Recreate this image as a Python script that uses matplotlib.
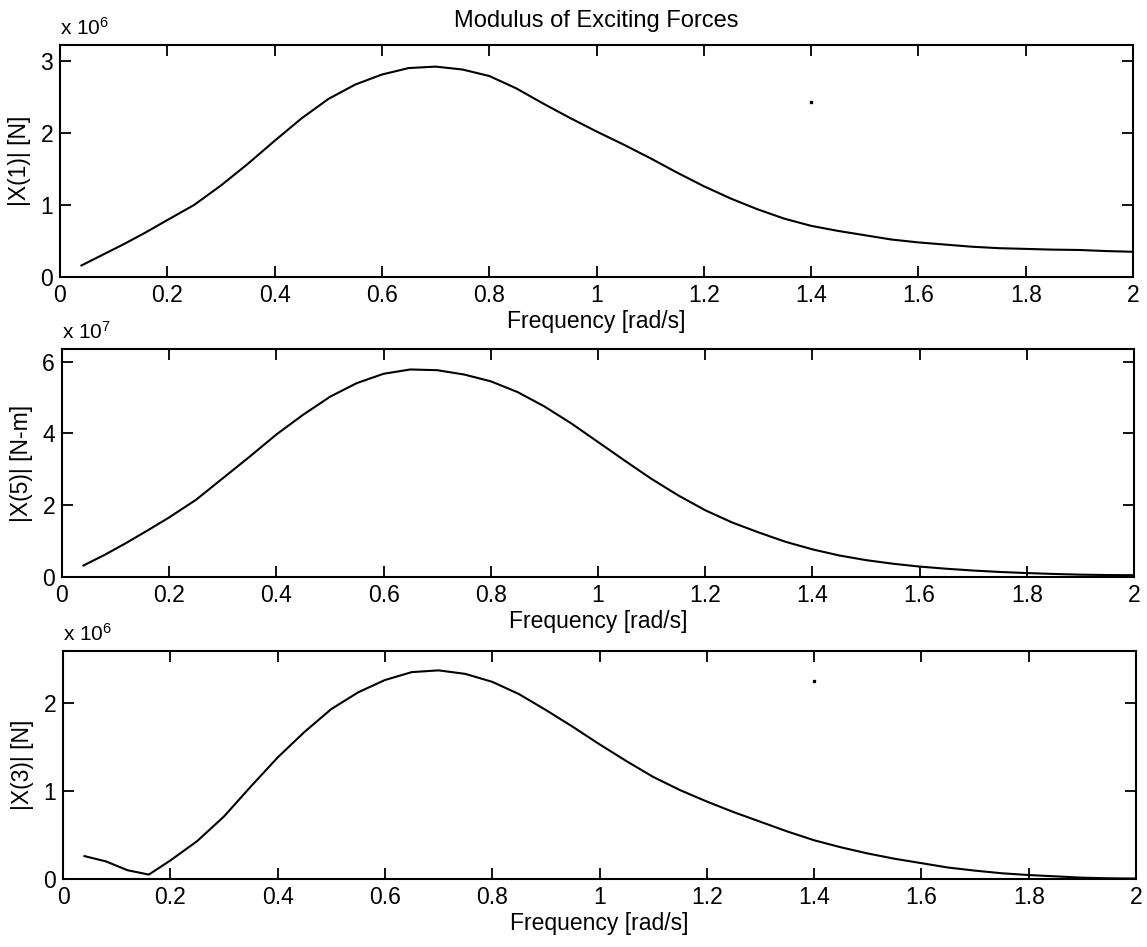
import matplotlib
matplotlib.use("Agg")
import matplotlib.pyplot as plt

plt.rcParams['font.family'] = ['Liberation Sans', 'DejaVu Sans']
plt.rcParams['mathtext.fontset'] = 'custom'
plt.rcParams['mathtext.rm'] = 'Liberation Sans'
plt.rcParams['mathtext.it'] = 'Liberation Sans'

# Frequency grid [rad/s]
freq = [0.04, 0.08, 0.12, 0.16, 0.20, 0.25, 0.30, 0.35, 0.40, 0.45, 0.50,
        0.55, 0.60, 0.65, 0.70, 0.75, 0.80, 0.85, 0.90, 0.95, 1.00, 1.05,
        1.10, 1.15, 1.20, 1.25, 1.30, 1.35, 1.40, 1.45, 1.50, 1.55, 1.60,
        1.65, 1.70, 1.75, 1.80, 1.85, 1.90, 1.95, 2.00]

# |X(1)| surge force, units of 1e6 N
x1 = [0.16, 0.31, 0.46, 0.62, 0.79, 1.00, 1.27, 1.57, 1.89, 2.20, 2.47,
      2.67, 2.81, 2.90, 2.92, 2.88, 2.79, 2.62, 2.41, 2.21, 2.02, 1.84,
      1.65, 1.45, 1.26, 1.09, 0.94, 0.81, 0.71, 0.64, 0.58, 0.52, 0.48,
      0.45, 0.42, 0.40, 0.39, 0.38, 0.375, 0.36, 0.35]

# |X(5)| pitch moment, units of 1e7 N-m
x5 = [0.32, 0.62, 0.95, 1.30, 1.66, 2.15, 2.75, 3.35, 3.97, 4.52, 5.02,
      5.40, 5.66, 5.78, 5.76, 5.64, 5.45, 5.15, 4.75, 4.28, 3.76, 3.24,
      2.73, 2.27, 1.86, 1.52, 1.24, 0.98, 0.77, 0.60, 0.47, 0.37, 0.29,
      0.23, 0.18, 0.14, 0.11, 0.085, 0.065, 0.055, 0.05]

# |X(3)| heave force, units of 1e6 N
x3 = [0.26, 0.20, 0.10, 0.05, 0.21, 0.43, 0.71, 1.05, 1.38, 1.67, 1.93,
      2.12, 2.26, 2.35, 2.37, 2.33, 2.24, 2.10, 1.92, 1.73, 1.53, 1.34,
      1.16, 1.01, 0.88, 0.76, 0.65, 0.54, 0.44, 0.36, 0.29, 0.23, 0.18,
      0.13, 0.095, 0.065, 0.045, 0.03, 0.015, 0.008, 0.005]

# Isolated specks in the printed figure
speck1 = ([1.4], [2.43])
speck3 = ([1.4], [2.25])

panels = [
    dict(y=x1, ylabel='|X(1)| [N]', ylim=(0, 3.22), yticks=[0, 1, 2, 3],
         exp='6', rect=[60, 45, 1133, 277], speck=speck1),
    dict(y=x5, ylabel='|X(5)| [N-m]', ylim=(0, 6.35), yticks=[0, 2, 4, 6],
         exp='7', rect=[62, 349, 1134, 577], speck=None),
    dict(y=x3, ylabel='|X(3)| [N]', ylim=(0, 2.59), yticks=[0, 1, 2],
         exp='6', rect=[63, 651, 1136, 879], speck=speck3),
]

W, H = 1147, 947
fig = plt.figure(figsize=(W / 100, H / 100), dpi=100)
xticks = [0, 0.2, 0.4, 0.6, 0.8, 1, 1.2, 1.4, 1.6, 1.8, 2]
xticklabels = ['0', '0.2', '0.4', '0.6', '0.8', '1', '1.2', '1.4', '1.6', '1.8', '2']

axes = []
for p in panels:
    l, t, r, b = p['rect']
    ax = fig.add_axes([l / W, 1 - b / H, (r - l) / W, (b - t) / H])
    ax.plot(freq, p['y'], color='black', linewidth=1.5)
    if p['speck'] is not None:
        ax.plot(p['speck'][0], p['speck'][1], linestyle='none', marker='s',
                markersize=1.6, color='black')
    ax.set_xlim(0, 2)
    ax.set_ylim(*p['ylim'])
    ax.set_xticks(xticks)
    ax.set_xticklabels(xticklabels)
    ax.set_yticks(p['yticks'])
    ax.tick_params(direction='in', length=8, width=1.3, top=True, right=True,
                   labelsize=16.5, pad=5)
    for s in ax.spines.values():
        s.set_linewidth(1.5)
    ax.set_xlabel('Frequency [rad/s]', fontsize=16.5, labelpad=2)
    ax.set_ylabel(p['ylabel'], fontsize=16.5)
    ax.yaxis.set_label_coords(-0.027, 0.5)
    ax.annotate('x 10$^{' + p['exp'] + '}$', xy=(0, 1), xycoords='axes fraction',
                xytext=(0, 7), textcoords='offset points', ha='left',
                va='baseline', fontsize=15)
    axes.append(ax)

axes[0].set_title('Modulus of Exciting Forces', fontsize=17, pad=13)

fig.savefig('out.png', dpi=100)
